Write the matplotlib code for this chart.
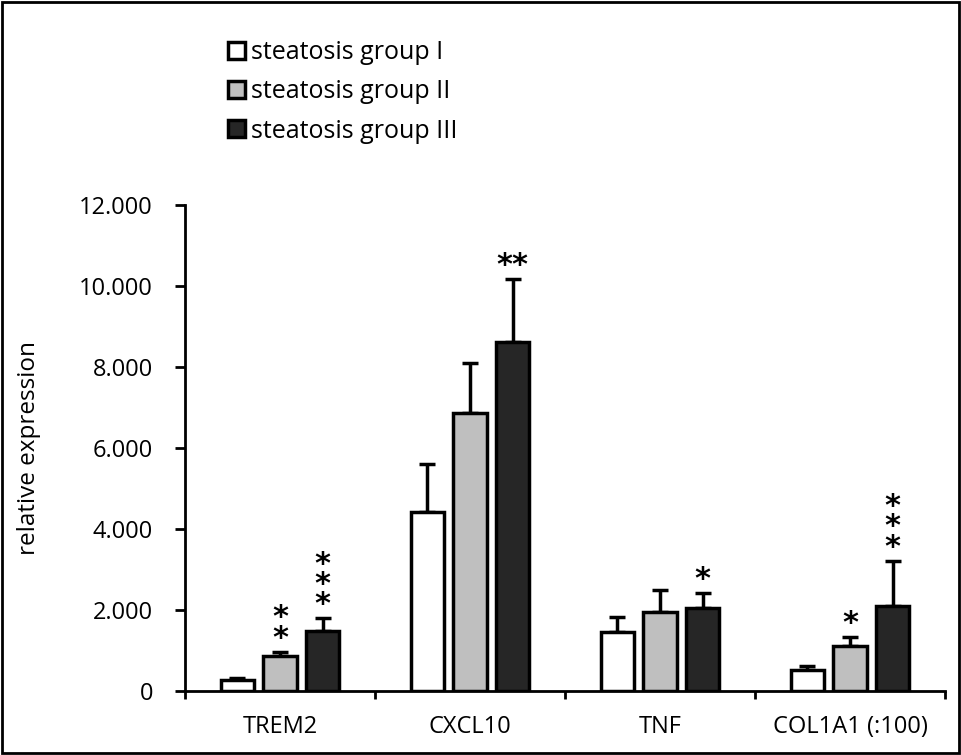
import numpy as np
import matplotlib
matplotlib.use("Agg")
from matplotlib import pyplot as plt
from matplotlib.patches import Patch, Rectangle

# values
genes = ["TREM2", "CXCL10", "TNF", "COL1A1 (:100)"]
groups = ["steatosis group I", "steatosis group II", "steatosis group III"]
group_I = [0.27, 4.42, 1.46, 0.52]
group_II = [0.86, 6.87, 1.96, 1.11]
group_III = [1.48, 8.62, 2.06, 2.10]
err_I = [0.05, 1.18, 0.36, 0.10]
err_II = [0.11, 1.23, 0.53, 0.23]
err_III = [0.32, 1.55, 0.37, 1.12]
# significance marks above the error bars
stars_I = ["", "", "", ""]
stars_II = ["*\n*", "", "", "*"]
stars_III = ["*\n*\n*", "**", "*", "*\n*\n*"]
yticks = [0, 2, 4, 6, 8, 10, 12]
ytick_labels = ["0", "2.000", "4.000", "6.000", "8.000", "10.000", "12.000"]

colors = ["white", "#bfbfbf", "#262626"]
plt.rcParams["font.family"] = ["Open Sans", "DejaVu Sans"]

fig = plt.figure(figsize=(9.61, 7.55), dpi=100)
ax = fig.add_axes([185 / 961, 1 - 691 / 755, 760 / 961, 486 / 755])

x = np.arange(len(genes))
width = 0.178
step = 0.224
values = [group_I, group_II, group_III]
errors = [err_I, err_II, err_III]
stars = [stars_I, stars_II, stars_III]

for i in range(3):
    pos = x + (i - 1) * step
    ax.bar(pos, values[i], width, color=colors[i], edgecolor="black",
           linewidth=2.5, zorder=3, label=groups[i])
    ax.errorbar(pos, values[i], yerr=[np.zeros(len(genes)), errors[i]],
                fmt="none", ecolor="black", elinewidth=2.5, capsize=5.6,
                capthick=2.5, zorder=2)
    for j, s in enumerate(stars[i]):
        if not s:
            continue
        top = values[i][j] + errors[i][j]
        ax.annotate(s, xy=(pos[j], top), xytext=(0, 5),
                    textcoords="offset pixels", ha="center", va="baseline",
                    fontsize=22, fontweight="bold", family="DejaVu Sans",
                    linespacing=0.62)

ax.set_xlim(-0.5, len(genes) - 0.5)
ax.set_ylim(0, 12)
ax.set_yticks(yticks)
ax.set_yticklabels(ytick_labels, fontsize=17)
ax.set_xticks(x)
ax.set_xticklabels(genes, fontsize=17)
ax.set_xticks(np.arange(len(genes) + 1) - 0.5, minor=True)
ax.tick_params(axis="x", which="major", length=0, pad=17)
ax.tick_params(axis="x", which="minor", length=6, width=2, direction="out")
ax.tick_params(axis="y", length=7, width=2, direction="out", pad=16)
for side in ["top", "right"]:
    ax.spines[side].set_visible(False)
for side in ["left", "bottom"]:
    ax.spines[side].set_linewidth(2)
ax.set_ylabel("relative expression", fontsize=17.5)
ax.yaxis.set_label_coords(-0.19, 0.5)

handles = [Patch(facecolor=c, edgecolor="black", linewidth=2.5) for c in colors]
fig.legend(handles, groups, loc="upper left",
           bbox_to_anchor=(218 / 961, 1 - 30 / 755), frameon=False,
           fontsize=18, handlelength=0.68, handleheight=0.68,
           handletextpad=0.25, labelspacing=0.57, borderaxespad=0)

fig.patches.append(Rectangle((0.002, 0.002), 0.996, 0.995, fill=False,
                             edgecolor="black", linewidth=2,
                             transform=fig.transFigure))

fig.savefig("out.png", dpi=100)
